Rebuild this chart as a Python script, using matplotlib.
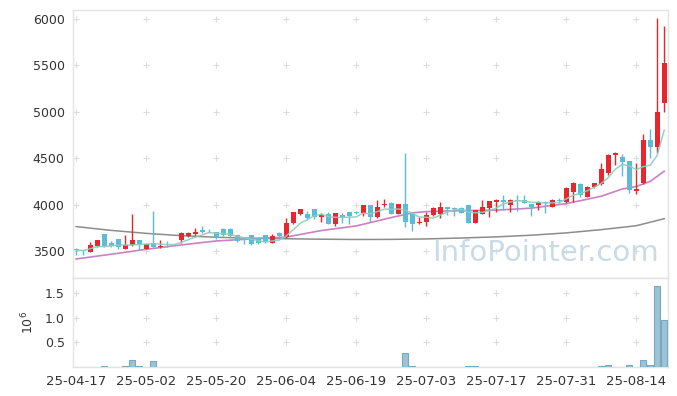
import numpy as np
import pandas as pd
import matplotlib
matplotlib.use('Agg')
import matplotlib.pyplot as plt

# daily candles (index = trading day)
opens = [3520, 3510, 3493, 3554, 3680, 3590, 3626, 3525, 3565, 3619,
         3525, 3583, 3545, 3600, 3578, 3619, 3662, 3683, 3727, 3707,
         3701, 3741, 3741, 3673, 3648, 3669, 3637, 3669, 3590, 3691,
         3647, 3799, 3896, 3896, 3950, 3863, 3896, 3791, 3888, 3921,
         3924, 3914, 3996, 3871, 4000, 4014, 3903, 4007, 3896, 3799,
         3817, 3888, 3896, 3971, 3964, 3964, 3996, 3806, 3903, 3968,
         4032, 4050, 3996, 4050, 4050, 4007, 3996, 4032, 3978, 4050,
         4032, 4140, 4223, 4086, 4187, 4219, 4345, 4532, 4518, 4471,
         4151, 4230, 4691, 4626, 5100]
highs = [3530, 3515, 3594, 3622, 3684, 3611, 3630, 3673, 3896, 3622,
         3580, 3932, 3618, 3605, 3580, 3701, 3705, 3748, 3770, 3740,
         3705, 3745, 3745, 3676, 3650, 3672, 3640, 3672, 3680, 3709,
         3853, 3925, 3950, 3935, 3953, 3906, 3917, 3910, 3906, 3925,
         3935, 4000, 4000, 4050, 4057, 4032, 4010, 4554, 3900, 3863,
         3917, 3978, 4025, 3975, 3970, 3975, 4000, 3946, 4050, 4043,
         4055, 4104, 4055, 4100, 4104, 4010, 4040, 4035, 4055, 4070,
         4194, 4248, 4230, 4201, 4230, 4446, 4540, 4565, 4547, 4475,
         4446, 4763, 4813, 6011, 5928]
lows = [3460, 3460, 3490, 3545, 3540, 3540, 3518, 3520, 3550, 3511,
        3522, 3529, 3530, 3547, 3565, 3583, 3655, 3655, 3690, 3690,
        3626, 3665, 3637, 3600, 3572, 3565, 3572, 3590, 3583, 3655,
        3640, 3795, 3890, 3835, 3850, 3817, 3790, 3773, 3806, 3788,
        3896, 3878, 3817, 3853, 3971, 3900, 3900, 3763, 3719, 3788,
        3773, 3880, 3853, 3888, 3878, 3910, 3800, 3799, 3900, 3870,
        3924, 3942, 3917, 3935, 4015, 3878, 3942, 3906, 3970, 4020,
        4014, 4032, 4086, 4080, 4176, 4212, 4320, 4428, 4309, 4130,
        4115, 4225, 4500, 4554, 4993]
closes = [3510, 3500, 3561, 3619, 3547, 3554, 3540, 3565, 3619, 3572,
          3576, 3547, 3555, 3598, 3570, 3691, 3691, 3705, 3709, 3704,
          3644, 3673, 3665, 3608, 3619, 3572, 3590, 3597, 3662, 3662,
          3799, 3921, 3950, 3853, 3871, 3888, 3795, 3906, 3853, 3878,
          3906, 3996, 3871, 3971, 4010, 3903, 4007, 3817, 3788, 3817,
          3888, 3960, 3978, 3950, 3950, 3914, 3806, 3942, 3971, 4040,
          4050, 4032, 4050, 4040, 4022, 3978, 4032, 4014, 4050, 4035,
          4176, 4230, 4104, 4194, 4230, 4385, 4536, 4554, 4464, 4158,
          4169, 4698, 4626, 5000, 5525]
# volume in millions of shares
volumes = [0.002, 0.002, 0.003, 0.004, 0.012, 0.003, 0.003, 0.03, 0.14, 0.012,
           0.004, 0.12, 0.003, 0.003, 0.002, 0.004, 0.003, 0.01, 0.003, 0.002,
           0.002, 0.01, 0.002, 0.002, 0.002, 0.002, 0.002, 0.002, 0.003, 0.002,
           0.01, 0.01, 0.003, 0.002, 0.002, 0.002, 0.01, 0.003, 0.002, 0.002,
           0.003, 0.01, 0.003, 0.01, 0.01, 0.003, 0.003, 0.28, 0.025, 0.01,
           0.003, 0.01, 0.003, 0.01, 0.003, 0.003, 0.02, 0.02, 0.003, 0.01,
           0.01, 0.003, 0.003, 0.003, 0.003, 0.01, 0.01, 0.003, 0.01, 0.003,
           0.01, 0.003, 0.003, 0.003, 0.003, 0.02, 0.035, 0.01, 0.01, 0.04,
           0.01, 0.14, 0.04, 1.64, 0.95]

# longer moving averages (they start before the window)
ma_idx = [0, 5, 10, 15, 20, 25, 30, 35, 40, 45, 48, 50, 55, 60, 65, 70, 75, 78, 80, 82, 84]
ma20 = [3414, 3465, 3518, 3565, 3608, 3630, 3650, 3720, 3770, 3860, 3910, 3925,
        3935, 3940, 3962, 4010, 4090, 4168, 4195, 4250, 4360]
ma_long_idx = [0, 5, 10, 15, 20, 25, 30, 35, 40, 45, 50, 55, 60, 65, 70, 75, 80, 84]
ma_long = [3763, 3722, 3690, 3665, 3648, 3638, 3632, 3627, 3624, 3625, 3630,
           3640, 3652, 3670, 3695, 3730, 3772, 3848]

tick_pos = [0, 10, 20, 30, 40, 50, 60, 70, 80]
tick_labels = ['25-04-17', '25-05-02', '25-05-20', '25-06-04', '25-06-19',
               '25-07-03', '25-07-17', '25-07-31', '25-08-14']
price_ticks = [3500, 4000, 4500, 5000, 5500, 6000]
vol_ticks = [0.5, 1.0, 1.5]

up_color = '#e8262d'
down_color = '#5bbcd6'
edge_gray = '#e3e3e3'
text_color = '#333333'

o = np.array(opens)
h = np.array(highs)
l = np.array(lows)
c = np.array(closes)
x = np.arange(len(o))
ma5 = pd.Series(c).rolling(5, min_periods=1).mean()

fig = plt.figure(figsize=(6.77, 3.96), dpi=100)
ax = fig.add_axes([0.1078, 0.298, 0.879, 0.6767])
axv = fig.add_axes([0.1078, 0.0732, 0.879, 0.2248], sharex=ax)

colors = np.where(c >= o, up_color, down_color)

# wicks and bodies
ax.vlines(x, l, h, colors=colors, linewidth=1, zorder=3)
body = np.maximum(np.abs(c - o), 4)
ax.bar(x, body, bottom=np.minimum(o, c), width=0.72, color=colors, zorder=4)

# moving averages
ax.plot(ma_long_idx, ma_long, color='#8c8c8c', linewidth=1.1, zorder=2)
ax.plot(ma_idx, ma20, color='#cc80c4', linewidth=1.2, zorder=2)
ax.plot(x, ma5, color='#8ccdbf', linewidth=1.1, zorder=5, alpha=0.9)

# watermark
ax.text(0.985, 0.04, 'InfoPointer.com', transform=ax.transAxes, ha='right',
        va='bottom', fontsize=21, color='#c9dbe5', zorder=1)

# volume
axv.bar(x, volumes, width=0.9, color='#9cc3d5', edgecolor='#76a8bf',
        linewidth=0.8, zorder=3)

ax.set_xlim(-0.45, 84.55)
ax.set_ylim(3209, 6097)
axv.set_ylim(0, 1.8)

ax.set_yticks(price_ticks)
axv.set_yticks(vol_ticks)
axv.set_yticklabels(['0.5', '1.0', '1.5'])
axv.set_xticks(tick_pos)
axv.set_xticklabels(tick_labels)
plt.setp(ax.get_xticklabels(), visible=False)

# "+" grid marks at tick intersections
gx, gy = np.meshgrid(tick_pos, price_ticks)
ax.scatter(gx.ravel(), gy.ravel(), marker='+', s=18, color='#dcdcdc',
           linewidths=0.8, zorder=0)
gx, gy = np.meshgrid(tick_pos, vol_ticks)
axv.scatter(gx.ravel(), gy.ravel(), marker='+', s=18, color='#dcdcdc',
            linewidths=0.8, zorder=0)

for a in (ax, axv):
    for s in a.spines.values():
        s.set_color(edge_gray)
        s.set_linewidth(1)
    a.tick_params(length=0, colors=text_color)
ax.tick_params(axis='y', labelsize=9, pad=6)
ax.tick_params(axis='x', length=0)
axv.tick_params(axis='y', labelsize=9, pad=6)
axv.tick_params(axis='x', labelsize=9.5, pad=6)
axv.set_ylabel(r'$10^6$', color=text_color, fontsize=9, labelpad=6)

fig.savefig('out.png', dpi=100)
